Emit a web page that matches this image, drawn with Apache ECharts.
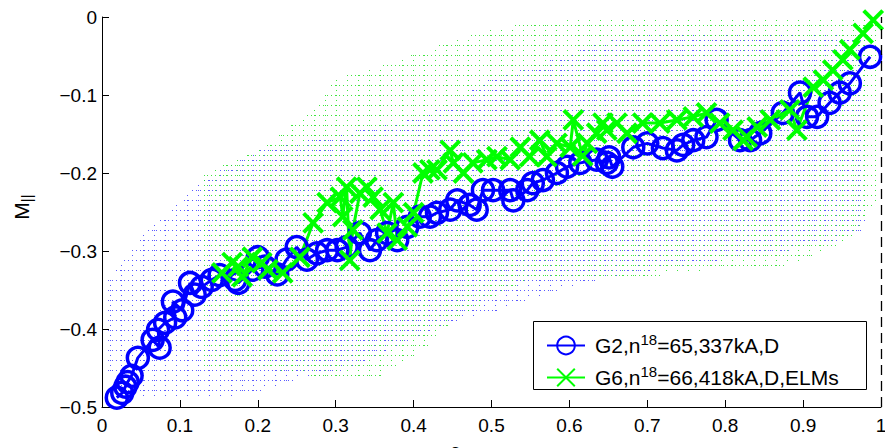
<!DOCTYPE html>
<html><head><meta charset="utf-8">
<script src="https://cdn.jsdelivr.net/npm/echarts@6/dist/echarts.min.js"></script>
<style>html,body{margin:0;padding:0;background:#fff}#c{width:885px;height:448px}</style>
</head><body><div id="c"></div>
<script>
// ---- data ----
const g2X = [0.019,0.026,0.030,0.033,0.038,0.046,0.065,0.074,0.072,0.081,0.094,0.091,0.103,0.113,0.119,0.128,0.141,0.151,0.171,0.175,0.193,0.200,0.209,0.225,0.237,0.250,0.263,0.276,0.289,0.302,0.314,0.331,0.344,0.353,0.366,0.379,0.392,0.408,0.421,0.430,0.447,0.456,0.472,0.481,0.489,0.502,0.524,0.528,0.546,0.553,0.566,0.584,0.597,0.614,0.635,0.648,0.651,0.655,0.682,0.700,0.720,0.738,0.746,0.759,0.776,0.789,0.819,0.832,0.845,0.874,0.896,0.905,0.918,0.934,0.947,0.960,0.986];
const g2Y = [-0.488,-0.482,-0.474,-0.468,-0.460,-0.437,-0.414,-0.424,-0.401,-0.392,-0.385,-0.365,-0.376,-0.341,-0.356,-0.346,-0.337,-0.331,-0.337,-0.341,-0.324,-0.308,-0.320,-0.330,-0.311,-0.295,-0.311,-0.303,-0.299,-0.299,-0.295,-0.277,-0.299,-0.286,-0.277,-0.286,-0.269,-0.256,-0.256,-0.251,-0.247,-0.235,-0.241,-0.247,-0.222,-0.222,-0.222,-0.235,-0.222,-0.213,-0.209,-0.200,-0.192,-0.187,-0.183,-0.187,-0.180,-0.192,-0.167,-0.162,-0.168,-0.171,-0.164,-0.158,-0.154,-0.132,-0.158,-0.158,-0.149,-0.123,-0.097,-0.128,-0.128,-0.110,-0.097,-0.085,-0.051];

const g6X = [0.154,0.167,0.175,0.180,0.193,0.205,0.213,0.232,0.254,0.271,0.289,0.306,0.309,0.314,0.318,0.322,0.331,0.340,0.348,0.357,0.366,0.374,0.379,0.392,0.400,0.412,0.421,0.430,0.447,0.451,0.464,0.476,0.494,0.507,0.524,0.537,0.549,0.562,0.571,0.584,0.601,0.605,0.617,0.623,0.635,0.643,0.648,0.661,0.674,0.694,0.716,0.738,0.759,0.776,0.793,0.810,0.823,0.828,0.841,0.858,0.883,0.892,0.913,0.926,0.938,0.951,0.960,0.977,0.990];
const g6Y = [-0.328,-0.315,-0.320,-0.333,-0.308,-0.315,-0.324,-0.328,-0.308,-0.264,-0.238,-0.231,-0.256,-0.218,-0.312,-0.273,-0.226,-0.218,-0.231,-0.247,-0.277,-0.238,-0.286,-0.269,-0.251,-0.200,-0.196,-0.196,-0.171,-0.187,-0.200,-0.187,-0.183,-0.179,-0.183,-0.167,-0.179,-0.158,-0.179,-0.162,-0.167,-0.132,-0.178,-0.162,-0.149,-0.136,-0.145,-0.136,-0.149,-0.136,-0.136,-0.132,-0.128,-0.123,-0.136,-0.145,-0.158,-0.154,-0.141,-0.132,-0.119,-0.145,-0.090,-0.081,-0.068,-0.055,-0.042,-0.021,-0.004];

// dotted envelopes (profile clouds)
const g2CloudX  = [0.005,0.02,0.05,0.08,0.10,0.12,0.15,0.20,0.25,0.30,0.35,0.40,0.45,0.50,0.55,0.60,0.65,0.70,0.80,0.85,0.90,0.95,0.98];
const g2CloudUp = [-0.34,-0.32,-0.28,-0.255,-0.235,-0.215,-0.195,-0.17,-0.16,-0.15,-0.14,-0.13,-0.11,-0.075,-0.065,-0.045,-0.03,-0.02,-0.02,-0.02,-0.02,-0.02,-0.02];
const g2CloudLo = [-0.45,-0.47,-0.49,-0.49,-0.49,-0.49,-0.49,-0.48,-0.465,-0.455,-0.435,-0.41,-0.39,-0.38,-0.36,-0.345,-0.333,-0.325,-0.31,-0.305,-0.295,-0.285,-0.27];

const g6CloudX  = [0.13,0.15,0.20,0.24,0.27,0.30,0.35,0.42,0.45,0.50,0.55,0.60,0.70,0.80,0.87,0.93,0.96,0.995];
const g6CloudUp = [-0.20,-0.19,-0.17,-0.14,-0.12,-0.077,-0.065,-0.04,-0.03,-0.013,-0.008,-0.003,-0.003,-0.003,-0.003,-0.003,-0.003,-0.003];
const g6CloudLo = [-0.45,-0.45,-0.45,-0.455,-0.46,-0.46,-0.465,-0.42,-0.39,-0.36,-0.335,-0.333,-0.333,-0.32,-0.32,-0.30,-0.285,-0.235];

const seriesNames = ['G2,n18=65,337kA,D', 'G6,n18=66,418kA,D,ELMs'];
const legendRich  = ['G2,n{sup|18}=65,337kA,D', 'G6,n{sup|18}=66,418kA,D,ELMs'];

// ---- dotted fill of an envelope (texture only; bounds come from the arrays) ----
function cloudSeries(xs, up, lo, color, ox, oy) {
  return {
    type: 'custom', silent: true, z: 1,
    data: [[xs[0], up[0]]],
    renderItem: function (params, api) {
      const U = xs.map((x, i) => api.coord([x, up[i]]));
      const L = xs.map((x, i) => api.coord([x, lo[i]]));
      let d = '';
      const x0 = Math.ceil(U[0][0]), x1 = Math.floor(U[U.length - 1][0]);
      let seg = 0;
      for (let px = x0; px <= x1; px++) {
        while (seg < U.length - 2 && px > U[seg + 1][0]) seg++;
        const t = (px - U[seg][0]) / (U[seg + 1][0] - U[seg][0]);
        const yu = U[seg][1] + t * (U[seg + 1][1] - U[seg][1]);
        const yl = L[seg][1] + t * (L[seg + 1][1] - L[seg][1]);
        const colLine = ((px + ox) % 11) === 0;
        const rowDot = ((px + ox) % 4) === 0;
        for (let py = Math.ceil(yu); py <= yl; py++) {
          const onRow = ((py + oy) % 10) === 0;
          if ((onRow && rowDot) || (colLine && ((py + oy) % 5) === 0)) {
            d += 'M' + px + ' ' + py + 'h1v1h-1z';
          }
        }
      }
      return { type: 'path', shape: { pathData: d }, style: { fill: color, stroke: null } };
    }
  };
}

const font = "'Liberation Sans', Arial, Helvetica, sans-serif";
const chart = echarts.init(document.getElementById('c'), null, { renderer: 'svg' });
chart.setOption({
  animation: false,
  backgroundColor: '#fff',
  grid: { left: 102, right: 4, top: 17, bottom: 41, containLabel: false, outerBoundsMode: 'none' },
  xAxis: {
    type: 'value', min: 0, max: 1, interval: 0.1,
    name: 'ρ', nameLocation: 'middle', nameGap: 20,
    nameTextStyle: { fontFamily: font, fontSize: 21, color: '#000', padding: [0, 72, 0, 0] },
    axisLine: { show: true, onZero: false, lineStyle: { color: '#000', width: 1 } },
    axisTick: { show: true, inside: true, length: 7, lineStyle: { color: '#000' } },
    axisLabel: { fontFamily: font, fontSize: 19, color: '#000', margin: 9 },
    splitLine: { show: false }
  },
  yAxis: {
    type: 'value', min: -0.5, max: 0, interval: 0.1,
    name: 'M{sub|||}', nameLocation: 'middle', nameRotate: 90, nameGap: 68,
    nameTextStyle: { fontFamily: font, fontSize: 21, color: '#000', padding: [0, 0, 0, 10],
      rich: { sub: { fontFamily: font, fontSize: 15, color: '#000', padding: [10, 0, 0, 0] } } },
    axisLine: { show: true, onZero: false, lineStyle: { color: '#000', width: 1 } },
    axisTick: { show: true, inside: true, length: 7, lineStyle: { color: '#000' } },
    axisLabel: { fontFamily: font, fontSize: 19, color: '#000', margin: 5,
      formatter: v => v === 0 ? '0' : (v < 0 ? '\u2212' : '') + Math.abs(v).toFixed(1) },
    splitLine: { show: false }
  },
  legend: {
    orient: 'vertical', left: 546, top: 332, padding: 0,
    itemWidth: 38, itemHeight: 22, itemGap: 8,
    data: seriesNames,
    formatter: name => legendRich[seriesNames.indexOf(name)],
    textStyle: { fontFamily: font, fontSize: 21, color: '#000', padding: [0, 0, 0, 5],
      rich: { sup: { fontFamily: font, fontSize: 15, color: '#000', padding: [0, 0, 12, 0] } } }
  },
  graphic: [{
    type: 'rect', z: 3,
    shape: { x: 533.5, y: 321.5, width: 333, height: 68 },
    style: { fill: '#fff', stroke: '#000', lineWidth: 1 }
  }],
  series: [
    cloudSeries(g2CloudX, g2CloudUp, g2CloudLo, 'rgba(50,50,255,0.8)', 0, 0),
    cloudSeries(g6CloudX, g6CloudUp, g6CloudLo, 'rgba(30,225,30,0.85)', 5, 5),
    {
      name: seriesNames[0], type: 'line', z: 2,
      data: g2X.map((x, i) => [x, g2Y[i]]),
      symbol: 'circle', symbolSize: 21,
      lineStyle: { color: '#0000ff', width: 3 },
      itemStyle: { color: 'rgba(0,0,0,0)', borderColor: '#0000ff', borderWidth: 3.5 },
      markLine: {
        silent: true, symbol: 'none', label: { show: false },
        lineStyle: { color: '#000', type: [10, 6], width: 1.3 },
        data: [{ xAxis: 1 }]
      }
    },
    {
      name: seriesNames[1], type: 'line', z: 2,
      data: g6X.map((x, i) => [x, g6Y[i]]),
      symbol: 'path://M0,0L10,10M10,0L0,10', symbolSize: 19,
      lineStyle: { color: '#00ff00', width: 3 },
      itemStyle: { color: 'rgba(0,0,0,0)', borderColor: '#00ff00', borderWidth: 4 }
    }
  ]
});
</script>
</body></html>
